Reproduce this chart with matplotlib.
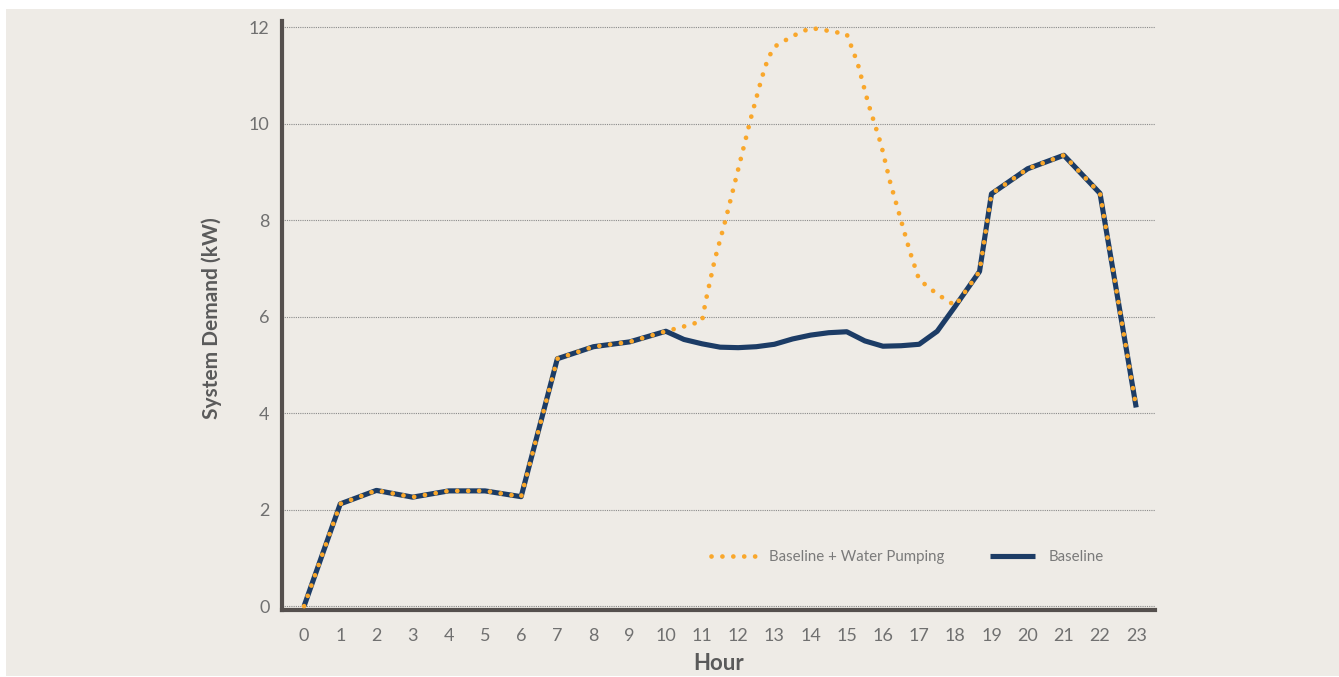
import matplotlib
matplotlib.use('Agg')
import matplotlib.pyplot as plt
from matplotlib.patches import Rectangle

plt.rcParams['font.family'] = ['Lato', 'DejaVu Sans']

# readings (hour of day, kW)
base_hours = [0, 1, 2, 3, 4, 5, 6, 7, 8, 9, 10, 10.5, 11, 11.5, 12, 12.5, 13, 13.5,
              14, 14.5, 15, 15.5, 16, 16.5, 17, 17.5, 18, 18.67, 19, 20, 21, 22, 23]
baseline = [0, 2.12, 2.40, 2.26, 2.39, 2.39, 2.27, 5.13, 5.38, 5.48, 5.70, 5.53, 5.44, 5.37,
            5.36, 5.38, 5.43, 5.54, 5.62, 5.67, 5.69, 5.50, 5.39, 5.40, 5.43, 5.70, 6.22,
            6.94, 8.55, 9.07, 9.35, 8.56, 4.12]

pump_hours = [0, 1, 2, 3, 4, 5, 6, 7, 8, 9, 10, 10.5, 11, 11.1, 11.35, 11.65, 12, 12.35,
              12.65, 12.82, 13, 13.5, 14, 14.5, 15, 15.3, 15.6, 15.95, 16.2, 16.5, 16.75, 17,
              17.5, 18, 18.67, 19, 20, 21, 22, 23]
pumping = [0, 2.12, 2.40, 2.26, 2.39, 2.39, 2.27, 5.13, 5.38, 5.48, 5.70, 5.80, 5.91, 6.32,
           7.18, 8.01, 9.06, 10.12, 10.95, 11.35, 11.6, 11.82, 11.99, 11.93, 11.86, 11.26,
           10.41, 9.57, 8.79, 8.0, 7.34, 6.77, 6.47, 6.23, 6.94, 8.55, 9.07, 9.35, 8.56, 4.12]

xticks = list(range(24))
yticks = [0, 2, 4, 6, 8, 10, 12]

bg = '#eeebe6'
navy = '#1c3c66'
orange = '#f9a72b'
spine_col = '#55504e'

fig = plt.figure(figsize=(13.39, 6.77), dpi=100)
fig.patch.set_facecolor('white')
fig.patches.append(Rectangle((6 / 1339, 1 / 677), 1 - 6 / 1339, 667 / 677,
                             transform=fig.transFigure, facecolor=bg,
                             edgecolor='none', zorder=-10))

ax = fig.add_axes([282 / 1339, 67 / 677, 873 / 1339, 589.3 / 677])
ax.patch.set_visible(False)

ax.plot(base_hours, baseline, color=navy, lw=3.7, solid_capstyle='butt',
        solid_joinstyle='round', label='Baseline', zorder=3)
ax.plot(pump_hours, pumping, color=orange, lw=3.4, linestyle=(0, (0.01, 2.3)),
        dash_capstyle='round', label='Baseline + Water Pumping', zorder=4)

ax.set_xlim(-0.61, 23.52)
ax.set_ylim(-0.08, 12.14)
ax.set_xticks(xticks)
ax.set_yticks(yticks)
ax.tick_params(length=0, labelsize=13, labelcolor='#707070')
ax.tick_params(axis='x', pad=13)
ax.tick_params(axis='y', pad=9)

ax.yaxis.grid(True, color='#8a8a8a', lw=0.8, linestyle=(0, (1, 1)))
ax.set_axisbelow(True)

for s in ['top', 'right']:
    ax.spines[s].set_visible(False)
for s in ['left', 'bottom']:
    ax.spines[s].set_color(spine_col)
    ax.spines[s].set_linewidth(3)

ax.set_xlabel('Hour', fontsize=16, fontweight='bold', color='#5a5a5a')
ax.set_ylabel('System Demand (kW)', fontsize=15, fontweight='bold', color='#5a5a5a')
ax.xaxis.set_label_coords(0.5, -0.09)
ax.xaxis.label.set_verticalalignment('center')
ax.yaxis.set_label_coords(-0.080, 0.495)
ax.yaxis.label.set_verticalalignment('center')

handles, labels = ax.get_legend_handles_labels()
leg = ax.legend(handles[::-1], labels[::-1], ncol=2, frameon=False,
                loc='center', bbox_to_anchor=(0.716, 0.090),
                fontsize=10.8, handlelength=3.0, handletextpad=0.9,
                columnspacing=3.0)
for t in leg.get_texts():
    t.set_color('#7a7a7a')

fig.savefig('out.png', dpi=100)
